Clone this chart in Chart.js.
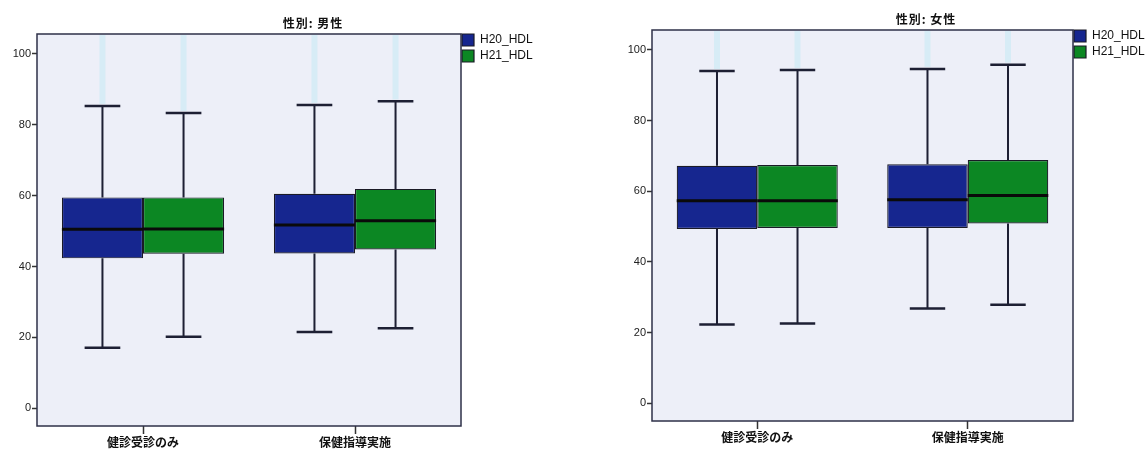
<!DOCTYPE html>
<html>
<head>
<meta charset="utf-8">
<script src="https://cdn.jsdelivr.net/npm/chart.js@4.4.1/dist/chart.umd.min.js"></script>
<style>
  html, body { margin: 0; padding: 0; background: #fff; overflow: hidden; }
  #wrap { position: relative; width: 1146px; height: 452px; }
  .box { position: absolute; top: 0; width: 573px; height: 452px; }
  .ttl {
    position: absolute; transform: translateX(-50%); white-space: nowrap;
    font: bold 12px "Noto Sans CJK JP", sans-serif; line-height: 16px;
    letter-spacing: 1px; color: #111;
  }
</style>
</head>
<body>
<div id="wrap">
  <div class="box" style="left:0"><canvas id="c-male" width="573" height="452"></canvas></div>
  <div class="box" style="left:573px"><canvas id="c-female" width="573" height="452"></canvas></div>
  <div class="ttl" style="left:313px; top:15px;">性別: 男性</div>
  <div class="ttl" style="left:926px; top:11px;">性別: 女性</div>
</div>
<script>
// ===== データ =====
const categories = ['健診受診のみ', '保健指導実施'];
const seriesNames = ['H20_HDL', 'H21_HDL'];
const yTicks = [0, 20, 40, 60, 80, 100];

// 各カテゴリ: [最小, Q1, 中央値, Q3, 最大]
const maleH20 = [[17.1, 42.3, 50.5, 59.5, 85.3], [21.5, 43.7, 51.7, 60.5, 85.6]];
const maleH21 = [[20.2, 43.6, 50.6, 59.5, 83.3], [22.6, 44.8, 52.9, 61.9, 86.6]];
const femaleH20 = [[22.3, 49.3, 57.3, 67.2, 94.0], [26.8, 49.6, 57.6, 67.6, 94.6]];
const femaleH21 = [[22.6, 49.6, 57.3, 67.4, 94.3], [27.9, 50.9, 58.8, 68.8, 95.8]];

const BLUE = '#16268f';
const GREEN = '#0c8723';
const CJK = '"Noto Sans CJK JP", sans-serif';

Chart.defaults.font.family = '"Liberation Sans", Arial, sans-serif';
Chart.defaults.animation = false;

// 背景・ひげ・中央値・枠線
const boxPlotParts = {
    id: 'boxPlotParts',
    afterLayout(chart) {
        // 凡例をプロット枠のすぐ右上に寄せる (クリップ範囲も広げる)
        const a = chart.chartArea, lg = chart.legend;
        lg.left = a.right - 3;
        lg.top = a.top - 4;
        lg.width = 110;
        lg.height = 60;
        lg.right = lg.left + lg.width;
        lg.bottom = lg.top + lg.height;
    },
    beforeDraw(chart) {
        const a = chart.chartArea, ctx = chart.ctx;
        ctx.save();
        ctx.fillStyle = '#edeff8';
        ctx.fillRect(a.left, a.top, a.right - a.left, a.bottom - a.top);
        ctx.restore();
    },
    afterDatasetsDraw(chart) {
        const ctx = chart.ctx, y = chart.scales.y, a = chart.chartArea;
        chart.data.datasets.forEach((ds, i) => {
            chart.getDatasetMeta(i).data.forEach((bar, j) => {
                const [lo, q1, med, q3, hi] = ds.stats[j];
                const x = bar.x, half = bar.width / 2, cap = bar.width * 0.22;
                ctx.save();
                // 外れ値のかすれた帯
                ctx.strokeStyle = 'rgba(150, 228, 238, 0.25)';
                ctx.lineWidth = 6;
                ctx.beginPath();
                ctx.moveTo(x, a.top + 1);
                ctx.lineTo(x, y.getPixelForValue(hi) - 2);
                ctx.stroke();
                // ひげ
                ctx.strokeStyle = '#1d1f33';
                ctx.lineWidth = 2;
                ctx.beginPath();
                ctx.moveTo(x, y.getPixelForValue(q3));
                ctx.lineTo(x, y.getPixelForValue(hi));
                ctx.moveTo(x, y.getPixelForValue(q1));
                ctx.lineTo(x, y.getPixelForValue(lo));
                ctx.stroke();
                // ひげの端
                ctx.lineWidth = 2.5;
                ctx.beginPath();
                ctx.moveTo(x - cap, y.getPixelForValue(hi));
                ctx.lineTo(x + cap, y.getPixelForValue(hi));
                ctx.moveTo(x - cap, y.getPixelForValue(lo));
                ctx.lineTo(x + cap, y.getPixelForValue(lo));
                ctx.stroke();
                // 中央値
                ctx.strokeStyle = '#0a0a0a';
                ctx.lineWidth = 3;
                ctx.beginPath();
                ctx.moveTo(x - half, y.getPixelForValue(med));
                ctx.lineTo(x + half, y.getPixelForValue(med));
                ctx.stroke();
                ctx.restore();
            });
        });
    },
    afterDraw(chart) {
        const a = chart.chartArea, ctx = chart.ctx;
        ctx.save();
        ctx.strokeStyle = '#2e3048';
        ctx.lineWidth = 1.5;
        ctx.strokeRect(a.left, a.top, a.right - a.left, a.bottom - a.top);
        ctx.restore();
    }
};

function makeChart(canvasId, h20, h21, frame) {
    const ctx = document.getElementById(canvasId).getContext('2d');
    return new Chart(ctx, {
        type: 'bar',
        data: {
            labels: categories,
            datasets: [h20, h21].map((s, i) => ({
                label: seriesNames[i],
                data: s.map(v => [v[1], v[3]]),
                stats: s,
                backgroundColor: i === 0 ? BLUE : GREEN,
                borderColor: '#1a1a26',
                borderWidth: 1.2,
                borderSkipped: false,
                categoryPercentage: 0.765,
                barPercentage: 1.0
            }))
        },
        options: {
            responsive: false,
            layout: { padding: { top: frame.top, left: 0, right: frame.padRight, bottom: 0 } },
            plugins: {
                tooltip: { enabled: false },
                legend: {
                    position: 'right',
                    align: 'start',
                    fullSize: false,
                    maxWidth: 40,
                    labels: { boxWidth: 12, boxHeight: 12, padding: 4, color: '#111', font: { size: 12 } }
                }
            },
            scales: {
                x: {
                    offset: true,
                    ticks: { padding: 1, color: '#111', font: { family: CJK, size: 12, weight: 'bold' } },
                    grid: { offset: false, drawOnChartArea: false, tickLength: 8, tickColor: '#333', tickWidth: 1.5 },
                    border: { display: false },
                    afterFit(s) { s.height = 452 - frame.bottom; }
                },
                y: {
                    min: -5,
                    max: 105.6,
                    afterBuildTicks(s) { s.ticks = yTicks.map(v => ({ value: v })); },
                    ticks: { padding: 1, color: '#222', font: { size: 11 } },
                    grid: { drawOnChartArea: false, tickLength: 5, tickColor: '#333', tickWidth: 1.5 },
                    border: { display: false },
                    afterFit(s) { s.width = frame.left; }
                }
            }
        },
        plugins: [boxPlotParts]
    });
}

makeChart('c-male', maleH20, maleH21, { top: 34, bottom: 426, left: 37, padRight: 72 });
makeChart('c-female', femaleH20, femaleH21, { top: 30, bottom: 421, left: 79, padRight: 33 });
</script>
</body>
</html>
